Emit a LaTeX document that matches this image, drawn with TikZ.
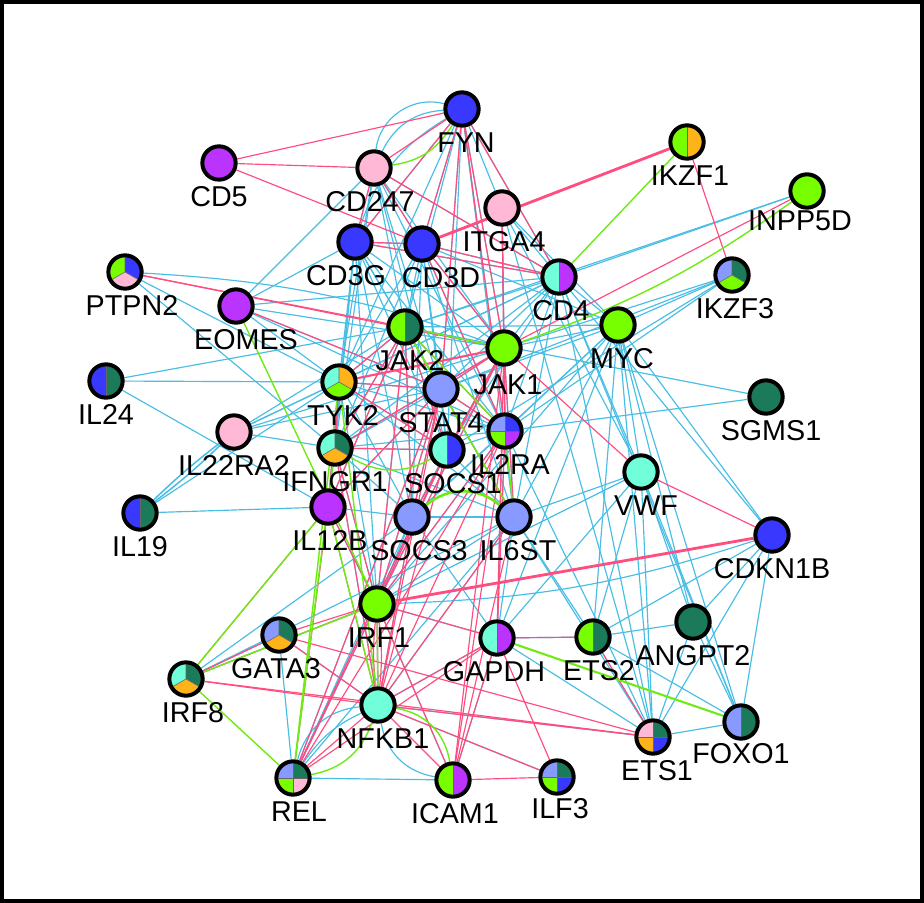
\documentclass[tikz,border=0pt]{standalone}
\usepackage{fontspec}
\setmainfont{Liberation Sans}
\usetikzlibrary{backgrounds}

\definecolor{gblue}{RGB}{56,56,255}
\definecolor{gpurple}{RGB}{187,51,255}
\definecolor{gpink}{RGB}{255,184,214}
\definecolor{gperi}{RGB}{136,153,255}
\definecolor{glime}{RGB}{119,255,0}
\definecolor{gdark}{RGB}{27,122,90}
\definecolor{gaqua}{RGB}{112,255,216}
\definecolor{gorange}{RGB}{255,179,26}
\definecolor{ecyan}{RGB}{72,190,228}
\definecolor{epink}{RGB}{255,77,128}
\definecolor{egreen}{RGB}{110,235,20}

\tikzset{
  sep/.style={draw=black!60, line width=0.5pt},
  halves/.style 2 args={path picture={
      \fill[#1] (path picture bounding box.south west) rectangle (path picture bounding box.north);
      \fill[#2] (path picture bounding box.south) rectangle (path picture bounding box.north east);
      \draw[sep] (path picture bounding box.south) -- (path picture bounding box.north);}},
  thirds/.style n args={3}{path picture={
      \begin{scope}[shift={(path picture bounding box.center)}]
        \fill[#1] (0,0) -- (90:1cm) -- (150:1cm) -- (210:1cm) -- cycle;
        \fill[#2] (0,0) -- (-30:1cm) -- (30:1cm) -- (90:1cm) -- cycle;
        \fill[#3] (0,0) -- (210:1cm) -- (270:1cm) -- (330:1cm) -- cycle;
        \draw[sep] (90:1cm) -- (0,0) -- (210:1cm) (0,0) -- (330:1cm);
      \end{scope}}},
  quarters/.style n args={4}{path picture={
      \begin{scope}[shift={(path picture bounding box.center)}]
        \fill[#1] (0,0) rectangle (-1cm,1cm);
        \fill[#2] (0,0) rectangle (1cm,1cm);
        \fill[#3] (0,0) rectangle (-1cm,-1cm);
        \fill[#4] (0,0) rectangle (1cm,-1cm);
        \draw[sep] (-1cm,0) -- (1cm,0) (0,-1cm) -- (0,1cm);
      \end{scope}}}
}

\begin{document}
\begin{tikzpicture}[x=0.03cm, y=-0.03cm,
    gene/.style={circle, draw=black, line width=0.12cm, minimum size=1cm, inner sep=0pt, label distance=0pt},
    lbl/.style={font=\fontsize{24.5}{25}\selectfont, inner sep=0pt, yshift=-0.14cm},
    cy/.style={draw=ecyan, line width=1pt},
    pk/.style={draw=epink, line width=1pt},
    gr/.style={draw=egreen, line width=1.2pt},
    heavy/.style={line width=2.4pt}]

    \useasboundingbox (0,0) rectangle (924,903);

    % genes
    \node [gene, fill=gblue, label={[lbl, xshift=0.12cm]below:FYN}] (FYN) at (462,109) {};
    \node [gene, fill=gpurple, label={[lbl]below:CD5}] (CD5) at (219,163) {};
    \node [gene, fill=gpink, label={[lbl, xshift=-0.12cm]below:CD247}] (CD247) at (374,168) {};
    \node [gene, halves={glime}{gorange}, label={[lbl, xshift=0.09cm]below:IKZF1}] (IKZF1) at (687,142) {};
    \node [gene, fill=glime, label={[lbl, xshift=-0.21cm, yshift=0.12cm]below:INPP5D}] (INPP5D) at (807,191) {};
    \node [gene, fill=gpink, label={[lbl, xshift=0.06cm]below:ITGA4}] (ITGA4) at (502,208) {};
    \node [gene, fill=gblue, label={[lbl, xshift=-0.27cm]below:CD3G}] (CD3G) at (355,242) {};
    \node [gene, fill=gblue, label={[lbl, xshift=0.57cm]below:CD3D}] (CD3D) at (422,244) {};
    \node [gene, thirds={glime}{gblue}{gpink}, label={[lbl, xshift=0.21cm]below:PTPN2}] (PTPN2) at (125,272) {};
    \node [gene, fill=gpurple, label={[lbl, xshift=0.3cm]below:EOMES}] (EOMES) at (236,306) {};
    \node [gene, halves={gaqua}{gpurple}, label={[lbl, xshift=0.06cm]below:CD4}] (CD4) at (559,277) {};
    \node [gene, thirds={gperi}{gdark}{glime}, label={[lbl, xshift=0.09cm]below:IKZF3}] (IKZF3) at (732,275) {};
    \node [gene, halves={glime}{gdark}, label={[lbl, xshift=0.15cm]below:JAK2}] (JAK2) at (405,327) {};
    \node [gene, fill=glime, label={[lbl, xshift=0.12cm, yshift=-0.1cm]below:JAK1}] (JAK1) at (504,348) {};
    \node [gene, fill=glime, label={[lbl, xshift=0.12cm]below:MYC}] (MYC) at (618,325) {};
    \node [gene, halves={gblue}{gdark}, label={[lbl]below:IL24}] (IL24) at (106,381) {};
    \node [gene, thirds={gaqua}{gorange}{glime}, label={[lbl, xshift=0.12cm]below:TYK2}] (TYK2) at (339,382) {};
    \node [gene, fill=gperi, label={[lbl]below:STAT4}] (STAT4) at (441,389) {};
    \node [gene, fill=gdark, label={[lbl, xshift=0.15cm]below:SGMS1}] (SGMS1) at (766,397) {};
    \node [gene, fill=gpink, label={[lbl]below:IL22RA2}] (IL22RA2) at (234,432) {};
    \node [gene, quarters={gperi}{gblue}{glime}{gpurple}, label={[lbl, xshift=0.15cm]below:IL2RA}] (IL2RA) at (505,431) {};
    \node [gene, thirds={gaqua}{gdark}{gorange}, label={[lbl]below:IFNGR1}] (IFNGR1) at (335,448) {};
    \node [gene, halves={gaqua}{gblue}, label={[lbl, xshift=0.18cm]below:SOCS1}] (SOCS1) at (447,450) {};
    \node [gene, fill=gaqua, label={[lbl, xshift=0.15cm]below:VWF}] (VWF) at (641,472) {};
    \node [gene, halves={gblue}{gdark}, label={[lbl]below:IL19}] (IL19) at (140,513) {};
    \node [gene, fill=gpurple, label={[lbl, xshift=0.06cm]below:IL12B}] (IL12B) at (328,507) {};
    \node [gene, fill=gperi, label={[lbl, xshift=0.21cm]below:SOCS3}] (SOCS3) at (412,517) {};
    \node [gene, fill=gperi, label={[lbl, xshift=0.12cm]below:IL6ST}] (IL6ST) at (514,517) {};
    \node [gene, fill=gblue, label={[lbl]below:CDKN1B}] (CDKN1B) at (772,535) {};
    \node [gene, fill=glime, label={[lbl, xshift=0.06cm]below:IRF1}] (IRF1) at (377,604) {};
    \node [gene, thirds={gperi}{gdark}{gorange}, label={[lbl, xshift=-0.09cm]below:GATA3}] (GATA3) at (279,635) {};
    \node [gene, halves={gaqua}{gpurple}, label={[lbl, xshift=-0.09cm]below:GAPDH}] (GAPDH) at (497,638) {};
    \node [gene, halves={glime}{gdark}, label={[lbl, xshift=0.18cm]below:ETS2}] (ETS2) at (593,637) {};
    \node [gene, fill=gdark, label={[lbl]below:ANGPT2}] (ANGPT2) at (693,622) {};
    \node [gene, thirds={gaqua}{gdark}{gorange}, label={[lbl, xshift=0.21cm]below:IRF8}] (IRF8) at (186,679) {};
    \node [gene, fill=gaqua, label={[lbl, xshift=0.15cm]below:NFKB1}] (NFKB1) at (378,705) {};
    \node [gene, quarters={gpink}{gdark}{gorange}{gblue}, label={[lbl, xshift=0.12cm]below:ETS1}] (ETS1) at (653,737) {};
    \node [gene, halves={gperi}{gdark}, label={[lbl, yshift=0.06cm]below:FOXO1}] (FOXO1) at (741,722) {};
    \node [gene, quarters={gperi}{gdark}{glime}{gpink}, label={[lbl, xshift=0.18cm]below:REL}] (REL) at (293,778) {};
    \node [gene, halves={glime}{gpurple}, label={[lbl, xshift=0.06cm]below:ICAM1}] (ICAM1) at (453,780) {};
    \node [gene, quarters={gperi}{gdark}{glime}{gblue}, label={[lbl, xshift=0.09cm, yshift=0.06cm]below:ILF3}] (ILF3) at (557,777) {};

    % interactions, behind the genes
    \begin{scope}[on background layer]
    \foreach \a/\b in {FYN/CD3G, FYN/CD3D, FYN/JAK2, FYN/ITGA4, FYN/CD4, FYN/JAK1, FYN/STAT4, FYN/IL2RA, FYN/IL6ST, FYN/TYK2, FYN/SOCS1,
        CD247/CD3G, CD247/CD3D, CD247/JAK2, CD247/TYK2, CD247/EOMES, CD247/STAT4, CD247/SOCS1, CD247/IL2RA, CD247/JAK1, CD247/CD4, CD247/IFNGR1,
        CD3G/CD3D, CD3G/EOMES, CD3G/JAK2, CD3G/TYK2, CD3G/IFNGR1, CD3G/STAT4, CD3G/JAK1, CD3G/CD4, CD3G/IL2RA, CD3G/SOCS1, CD3G/SOCS3, CD3G/IL12B, CD3G/IRF1,
        CD3D/JAK2, CD3D/TYK2, CD3D/STAT4, CD3D/JAK1, CD3D/CD4, CD3D/IL2RA, CD3D/SOCS1, CD3D/IL6ST, CD3D/MYC, CD3D/IFNGR1, CD3D/SOCS3,
        ITGA4/CD4, ITGA4/JAK1, ITGA4/IL2RA, ITGA4/VWF, ITGA4/ETS1, ITGA4/MYC,
        PTPN2/IFNGR1, PTPN2/TYK2,
        EOMES/TYK2, EOMES/JAK1, EOMES/STAT4, EOMES/IL2RA, EOMES/CD4,
        CD4/JAK2, CD4/TYK2, CD4/IFNGR1, CD4/STAT4, CD4/SOCS1, CD4/JAK1, CD4/IL2RA, CD4/INPP5D, CD4/MYC, CD4/VWF, CD4/ETS1, CD4/IL6ST, CD4/FOXO1, CD4/IL22RA2,
        IKZF3/JAK1, IKZF3/STAT4, IKZF3/IL2RA, IKZF3/SOCS1, IKZF3/MYC,
        JAK2/TYK2, JAK2/STAT4, JAK2/IL2RA, JAK2/SOCS1, JAK2/SOCS3, JAK2/IFNGR1, JAK2/IL24, JAK2/IL22RA2, JAK2/IL12B, JAK2/MYC, JAK2/SGMS1, JAK2/INPP5D, JAK2/IRF1, JAK2/IL6ST,
        JAK1/TYK2, JAK1/STAT4, JAK1/IL2RA, JAK1/SOCS1, JAK1/SOCS3, JAK1/IL6ST, JAK1/IFNGR1, JAK1/IL22RA2, JAK1/MYC, JAK1/IRF1, JAK1/GAPDH,
        MYC/STAT4, MYC/IL2RA, MYC/SOCS3, MYC/IL6ST, MYC/VWF, MYC/CDKN1B, MYC/ETS1, MYC/ETS2, MYC/FOXO1, MYC/IRF1, MYC/GAPDH, MYC/ANGPT2,
        IL24/TYK2, IL24/IL12B,
        TYK2/STAT4, TYK2/IFNGR1, TYK2/SOCS1, TYK2/IL2RA, TYK2/IL12B, TYK2/SOCS3, TYK2/IL22RA2, TYK2/IRF1, TYK2/IL6ST,
        STAT4/IFNGR1, STAT4/SOCS1, STAT4/IL2RA, STAT4/SOCS3, STAT4/IL6ST, STAT4/IL12B, STAT4/IRF1,
        SGMS1/IL2RA, IL22RA2/IFNGR1, IL22RA2/STAT4,
        IL2RA/SOCS1, IL2RA/SOCS3, IL2RA/IL6ST, IL2RA/IFNGR1, IL2RA/IRF1, IL2RA/GAPDH, IL2RA/ETS1,
        IFNGR1/SOCS1, IFNGR1/SOCS3, IFNGR1/IL12B, IFNGR1/IRF1, IFNGR1/NFKB1, IFNGR1/IL6ST,
        SOCS1/SOCS3, SOCS1/IL6ST, SOCS1/IRF1,
        VWF/ETS1, VWF/ETS2, VWF/FOXO1, VWF/ANGPT2, VWF/IL6ST, VWF/IRF1, VWF/GAPDH,
        IL19/TYK2, IL19/IL12B, IL12B/SOCS3, IL12B/IRF1,
        SOCS3/IL6ST, SOCS3/IRF1, SOCS3/NFKB1, SOCS3/GAPDH,
        IL6ST/IRF1, IL6ST/NFKB1, IL6ST/GAPDH, IL6ST/ETS1, IL6ST/ETS2,
        CDKN1B/ETS1, CDKN1B/FOXO1, CDKN1B/ANGPT2, CDKN1B/ETS2, CDKN1B/CD4,
        IRF1/NFKB1, IRF1/GAPDH, IRF1/REL, IRF1/IRF8, IRF1/ICAM1,
        GATA3/IRF8, GATA3/NFKB1, GATA3/REL,
        GAPDH/NFKB1, GAPDH/ETS1, GAPDH/ETS2, GAPDH/ICAM1,
        ETS2/ETS1, ETS2/ANGPT2, ETS2/FOXO1, ANGPT2/ETS1, ANGPT2/FOXO1,
        IRF8/SOCS3, IRF8/IL6ST, NFKB1/ETS1, NFKB1/ILF3, ETS1/FOXO1,
        REL/ICAM1, REL/SOCS3, REL/IL6ST, REL/STAT4, REL/SOCS1}
      \draw [cy] (\a) -- (\b);
    \draw [cy] (CD247) to[bend left=30] (FYN);
    \draw [cy] (CD247) to[bend left=50] (FYN);
    \draw [cy] (CD3G) to[bend left=20] (FYN);
    \draw [cy] (PTPN2) to[bend left=8] (JAK1);
    \draw [cy] (IRF1) to[bend right=8] (CDKN1B);
    \draw [cy] (REL) to[bend left=35] (NFKB1);
    \draw [cy] (REL) to[bend left=15] (NFKB1);
    \draw [cy] (NFKB1) to[bend right=35] (ICAM1);
    \draw [cy, line width=1.3pt] (IL19) to[bend left=3] (IL22RA2);
    \draw [cy, line width=1.3pt] (IL19) to[bend right=3] (IL22RA2);

    \foreach \a/\b in {CD5/CD247, CD5/FYN, CD5/CD3D,
        CD247/FYN, CD247/CD3G, CD247/CD3D, CD247/CD4,
        FYN/CD3G, FYN/CD3D, FYN/JAK1, FYN/STAT4, FYN/IL2RA, FYN/CD4,
        CD3G/CD3D, CD3G/CD4, CD3D/CD4, CD3D/JAK1, CD3D/IL2RA,
        ITGA4/JAK1, ITGA4/IL2RA, PTPN2/JAK2, PTPN2/JAK1, EOMES/STAT4,
        JAK2/TYK2, JAK2/STAT4, JAK2/SOCS1, JAK2/SOCS3, JAK2/IL2RA, JAK2/IFNGR1, JAK2/IL12B, JAK2/IRF1, JAK2/IL6ST,
        JAK1/IL2RA, JAK1/IL6ST, JAK1/SOCS1, JAK1/SOCS3, JAK1/STAT4, JAK1/IFNGR1, JAK1/INPP5D, JAK1/VWF, JAK1/ICAM1, JAK1/IRF1, JAK1/GAPDH,
        TYK2/STAT4, TYK2/IFNGR1, TYK2/IL12B, TYK2/SOCS1,
        IL12B/IRF1, IL12B/NFKB1, IL12B/STAT4, IL12B/REL, IL12B/IRF8,
        STAT4/IRF1, STAT4/SOCS3, STAT4/IL2RA, STAT4/NFKB1,
        IL2RA/NFKB1, IL2RA/IRF1, IL2RA/GAPDH, IL2RA/ICAM1,
        IFNGR1/IRF1, IFNGR1/SOCS1, IFNGR1/NFKB1,
        SOCS1/IRF1, SOCS1/NFKB1, SOCS3/NFKB1, IL6ST/ICAM1, IL6ST/NFKB1,
        VWF/CDKN1B, IKZF1/IKZF3,
        IRF1/GATA3, IRF1/IRF8, IRF1/NFKB1, IRF1/ICAM1, IRF1/REL, IRF1/GAPDH,
        GATA3/ETS1, GATA3/IRF8, GATA3/NFKB1, IRF8/ETS1, IRF8/NFKB1,
        NFKB1/REL, NFKB1/ICAM1, NFKB1/ILF3, NFKB1/GAPDH, NFKB1/ETS1,
        GAPDH/ICAM1, GAPDH/ETS2, GAPDH/ILF3, GAPDH/REL,
        ICAM1/ILF3, ETS2/ETS1, REL/IL2RA, REL/SOCS1, REL/STAT4}
      \draw [pk] (\a) -- (\b);
    \draw [pk] (IRF1) to[bend left=6] (NFKB1);
    \draw [pk] (IRF1) to[bend right=6] (NFKB1);
    \draw [pk, heavy] (CD3D) -- (IKZF1);
    \draw [pk, heavy] (IRF1) -- (CDKN1B);
    \draw [pk, line width=1.8pt] (TYK2) -- (JAK1);

    \foreach \a/\b in {IKZF1/CD4, JAK2/JAK1, JAK2/STAT4, JAK2/IL6ST, JAK2/IL2RA,
        EOMES/IRF1, TYK2/REL, IFNGR1/REL, IL12B/NFKB1, TYK2/NFKB1,
        IRF8/IRF1, IRF8/REL, IRF8/IL12B, IRF1/NFKB1, IL2RA/IL6ST}
      \draw [gr] (\a) -- (\b);
    \draw [gr] (CD247) to[bend right=25] (FYN);
    \draw [gr] (JAK1) to[bend right=8] (INPP5D);
    \draw [gr] (IFNGR1) to[bend right=30] (SOCS1);
    \draw [gr, line width=2.2pt] (SOCS3) to[bend left=40] (IL6ST);
    \draw [gr] (REL) to[bend right=30] (NFKB1);
    \draw [gr] (NFKB1) to[bend left=35] (ICAM1);
    \draw [gr, line width=1.8pt] (GAPDH) -- (FOXO1);
    \end{scope}

    \draw [line width=0.12cm] (2,2) rectangle (922,901);
\end{tikzpicture}
\end{document}
